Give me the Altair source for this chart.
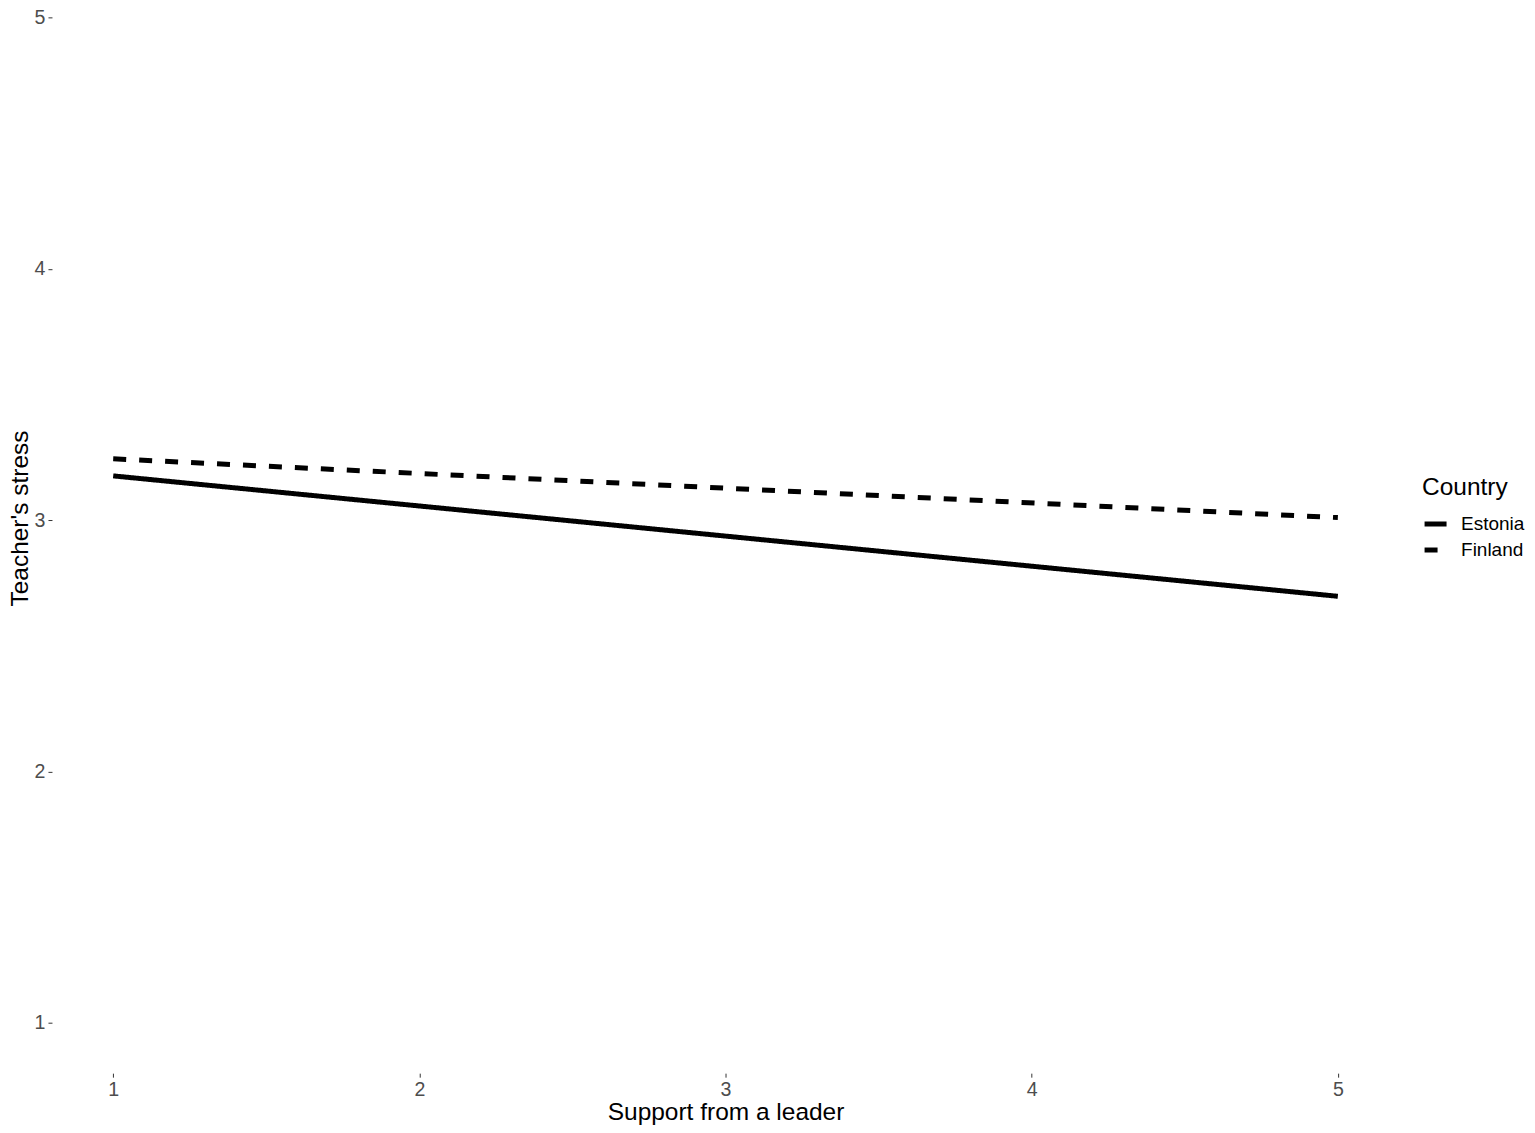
import altair as alt
import pandas as pd

countries = ["Estonia", "Estonia", "Finland", "Finland"]
support = [1, 5, 1, 5]
stress = [3.176, 2.697, 3.244, 3.010]

df = pd.DataFrame({"Country": countries, "Support": support, "Stress": stress})

FONT = "Liberation Sans"

chart = alt.Chart(df).mark_line(strokeWidth=5, color="black", strokeCap="butt").encode(
    x=alt.X("Support:Q",
            scale=alt.Scale(domain=[0.8, 5.2], nice=False, zero=False),
            axis=alt.Axis(values=[1, 2, 3, 4, 5], title="Support from a leader",
                          titlePadding=2)),
    y=alt.Y("Stress:Q",
            scale=alt.Scale(domain=[0.8, 5.0], nice=False, zero=False),
            axis=alt.Axis(values=[1, 2, 3, 4, 5], title="Teacher's stress",
                          titleX=-31, titleY=501, titleAlign="center",
                          titleBaseline="middle", titleAngle=-90)),
    strokeDash=alt.StrokeDash("Country:N",
                              scale=alt.Scale(domain=["Estonia", "Finland"],
                                              range=[[1, 0], [13, 13]]),
                              legend=alt.Legend(title="Country", orient="none",
                                                legendX=1371, legendY=459,
                                                symbolType="stroke", symbolSize=484,
                                                symbolStrokeWidth=5,
                                                symbolStrokeColor="black",
                                                labelOffset=12,
                                                titlePadding=10,
                                                rowPadding=2, padding=0)),
    detail="Country:N",
).properties(
    width=1348, height=1056.5,
    autosize=alt.AutoSizeParams(type="none"),
    padding={"left": 44, "top": 9, "right": 128, "bottom": 51},
).configure_view(stroke=None).configure_axis(
    grid=False, domain=False, tickSize=4, tickColor="#333333",
    labelColor="#4D4D4D", labelFontSize=19.6, labelFont=FONT, labelPadding=3,
    titleFont=FONT, titleFontSize=24.5, titleFontWeight="normal", titleColor="black",
).configure_legend(
    labelFont=FONT, labelFontSize=19, labelColor="black",
    titleFont=FONT, titleFontSize=24.5, titleFontWeight="normal", titleColor="black",
)

chart.save("out.html", embed_options={"renderer": "svg", "actions": False})
